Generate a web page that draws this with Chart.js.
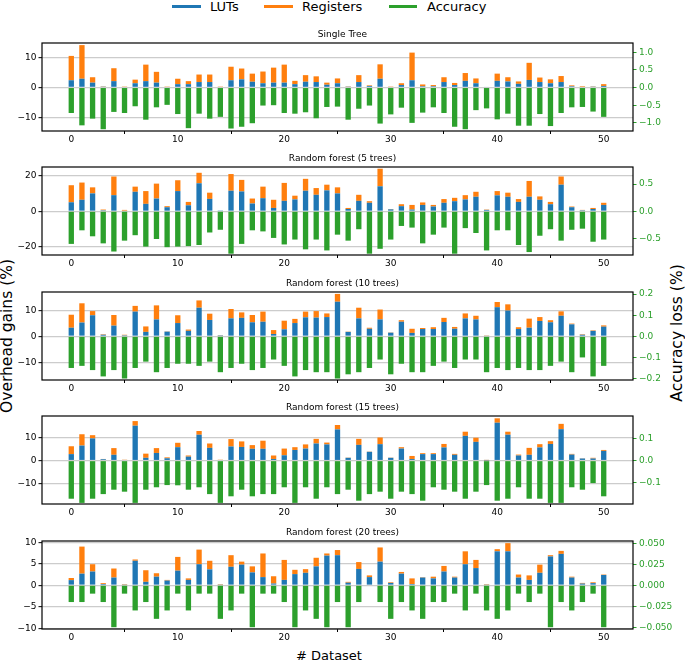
<!DOCTYPE html>
<html>
<head>
<meta charset="utf-8">
<script src="https://cdn.jsdelivr.net/npm/chart.js@4.4.0/dist/chart.umd.min.js"></script>
<style>
  body { margin: 0; background: #fff; }
  #wrap { position: relative; width: 685px; height: 661px; overflow: hidden; font-family: "DejaVu Sans", sans-serif; color: #000; }
  #wrap canvas { position: absolute; left: 0; }
  .lgtext { position: absolute; top: 0; font-size: 13px; line-height: 13px; white-space: nowrap; }
  .lgline { position: absolute; top: 5px; height: 3px; }
  .vlabel { position: absolute; font-size: 15.5px; white-space: nowrap; transform: translate(-50%, -50%) rotate(-90deg); }
  .xlabel { position: absolute; font-size: 13px; white-space: nowrap; transform: translate(-50%, -50%); }
</style>
</head>
<body>
<div id="wrap">
  <div class="lgline" style="left:172px;width:29px;background:#1f77b4"></div>
  <div class="lgtext" style="left:210px">LUTs</div>
  <div class="lgline" style="left:264px;width:29px;background:#ff7f0e"></div>
  <div class="lgtext" style="left:302px">Registers</div>
  <div class="lgline" style="left:389px;width:28px;background:#2ca02c"></div>
  <div class="lgtext" style="left:427px">Accuracy</div>
  <div class="vlabel" style="left:7px;top:336px">Overhead gains (%)</div>
  <div class="vlabel" style="left:677px;top:333px">Accuracy loss (%)</div>
  <div class="xlabel" style="left:329px;top:655px"># Dataset</div>
</div>
<script>
// x positions: one bar per dataset
const datasetIds = Array.from({length: 51}, (_, i) => i);
const xTicks = [0, 10, 20, 30, 40, 50];

// Single Tree
const lutsSingle = [2.4,2.9,1.6,0.3,2.1,0.2,1.4,2.1,1.6,0.2, 1.1,1.1,1.8,1.8,0.2,2.4,2.7,1.9,1.4,1.6,
  1.6,1.1,1.9,1.8,0.9,1.4,0.3,1.8,0.5,2.9, 0.2,0.8,2.4,0.4,0.4,1.8,0.8,2.2,1.4,0.2,
  2.2,2.0,1.2,2.5,1.8,1.4,1.8,0.4,0.2,0.3, 0.5];
const topSingle = [10.5,14.1,3.4,0.4,6.4,0.3,2.6,7.6,5.2,0.3, 2.9,2.1,4.3,4.3,0.3,6.9,6.3,4.6,5.3,6.6,
  7.6,2.2,4.1,3.7,1.6,3.0,0.4,4.1,0.7,7.7, 0.3,1.4,11.6,1.0,0.8,3.4,1.5,4.8,3.0,0.2,
  4.6,3.4,2.0,8.2,3.3,2.7,3.8,0.7,0.4,0.4, 1.1];
const accSingle = [-0.72,-1.07,-0.88,-1.18,-0.69,-0.72,-0.53,-0.91,-0.56,-0.49, -0.75,-1.15,-0.74,-0.88,-0.83,-1.16,-1.11,-1.01,-0.51,-0.50,
  -0.72,-0.74,-0.70,-0.87,-0.55,-0.54,-0.91,-0.60,-0.51,-1.02, -0.76,-0.57,-1.00,-0.71,-0.56,-0.72,-1.11,-1.18,-0.64,-0.59,
  -0.90,-0.74,-1.08,-1.08,-0.75,-1.09,-0.72,-0.56,-0.55,-0.68, -0.83];

// Random forest (5 trees)
const luts5 = [5.1,6.5,10.1,0.6,9.1,0.4,11.0,4.2,7.2,2.3, 11.4,3.4,15.8,7.0,0.2,11.6,11.2,4.4,7.4,1.9,
  5.9,6.7,11.6,9.3,11.8,10.1,1.3,5.9,4.8,14.1, 1.1,2.9,1.0,3.6,2.7,4.8,5.7,6.7,8.2,0.8,
  9.0,8.2,5.3,8.2,6.5,4.0,15.0,2.3,0.6,1.3, 3.6];
const top5 = [14.7,16.2,13.5,1.0,19.6,0.8,13.9,11.4,15.6,2.9, 17.5,5.3,21.7,10.5,0.2,21.0,17.7,7.2,13.9,6.5,
  16.0,8.8,18.3,13.1,15.0,13.5,1.9,9.3,5.7,24.0, 1.3,4.0,3.6,5.0,3.6,6.9,7.6,9.1,11.0,1.0,
  11.4,10.5,6.9,17.1,8.4,5.3,19.6,2.7,0.8,1.9, 4.8];
const acc5 = [-0.60,-0.35,-0.46,-0.59,-0.74,-0.54,-0.44,-0.65,-0.51,-0.66, -0.65,-0.64,-0.62,-0.39,-0.34,-0.78,-0.60,-0.35,-0.37,-0.49,
  -0.61,-0.52,-0.70,-0.52,-0.72,-0.43,-0.54,-0.33,-0.78,-0.69, -0.52,-0.27,-0.30,-0.59,-0.43,-0.30,-0.78,-0.31,-0.40,-0.72,
  -0.35,-0.35,-0.62,-0.75,-0.45,-0.33,-0.54,-0.34,-0.32,-0.56, -0.52];

// Random forest (10 trees)
const luts10 = [3.3,5.3,8.1,0.6,4.1,0.4,9.5,1.7,6.5,1.8, 5.1,2.1,11.0,6.3,0.4,6.9,7.1,5.4,5.6,0.9,
  2.7,5.1,7.3,7.2,7.4,13.3,1.7,6.9,2.9,6.5, 1.4,5.6,1.3,2.8,2.8,5.5,2.9,6.9,6.5,0.3,
  11.2,9.9,2.8,3.3,5.9,5.4,7.9,4.6,0.6,2.1, 3.7];
const top10 = [8.3,12.7,9.7,0.8,8.2,0.6,11.7,3.8,11.9,1.9, 8.1,2.6,13.8,8.7,0.5,10.5,9.2,8.2,9.5,2.4,
  6.0,6.7,9.5,9.7,8.8,16.3,1.8,11.0,3.3,10.3, 1.5,6.2,2.9,3.2,3.5,7.1,3.6,8.8,7.9,0.4,
  13.2,12.3,3.5,6.8,7.4,6.2,9.6,4.9,0.8,2.3, 4.2];
const acc10 = [-0.15,-0.14,-0.16,-0.19,-0.16,-0.20,-0.15,-0.12,-0.17,-0.15, -0.13,-0.13,-0.14,-0.12,-0.17,-0.15,-0.13,-0.16,-0.15,-0.11,
  -0.14,-0.19,-0.16,-0.17,-0.17,-0.20,-0.18,-0.17,-0.15,-0.11, -0.18,-0.13,-0.17,-0.17,-0.14,-0.12,-0.15,-0.11,-0.11,-0.17,
  -0.15,-0.16,-0.15,-0.16,-0.16,-0.14,-0.12,-0.17,-0.10,-0.19, -0.14];

// Random forest (15 trees)
const luts15 = [2.8,6.5,9.6,0.6,2.5,0.3,15.1,1.2,3.3,1.0, 5.8,1.7,11.2,5.5,0.3,6.1,5.9,5.1,5.1,0.7,
  2.3,4.6,5.2,7.4,7.0,13.5,1.2,6.8,3.8,7.1, 1.2,5.2,0.7,2.8,2.8,5.7,2.5,10.7,8.1,0.1,
  16.4,11.2,2.2,2.5,5.7,7.2,13.6,2.6,0.9,0.9, 4.2];
const top15 = [6.2,11.4,11.0,0.7,5.4,0.4,17.1,3.0,5.4,1.4, 7.7,2.2,12.8,7.4,0.4,9.3,8.3,6.7,8.6,2.2,
  5.2,5.8,7.0,9.4,7.8,15.4,1.3,9.4,3.9,10.0, 1.3,5.8,2.0,3.2,3.2,7.2,2.9,12.5,9.9,0.3,
  18.3,12.5,2.6,5.5,7.1,8.4,15.9,2.9,1.0,1.2, 4.6];
const acc15 = [-0.173,-0.192,-0.173,-0.152,-0.132,-0.141,-0.192,-0.132,-0.121,-0.111, -0.112,-0.132,-0.121,-0.152,-0.192,-0.162,-0.132,-0.162,-0.152,-0.152,
  -0.121,-0.192,-0.121,-0.173,-0.121,-0.152,-0.132,-0.182,-0.152,-0.141, -0.173,-0.141,-0.152,-0.182,-0.121,-0.132,-0.141,-0.173,-0.141,-0.111,
  -0.182,-0.173,-0.121,-0.173,-0.173,-0.192,-0.192,-0.121,-0.132,-0.102, -0.162];

// Random forest (20 trees)
const luts20 = [1.2,2.7,3.2,0.3,1.8,0.2,5.7,0.8,2.0,1.1, 3.4,1.25,4.9,3.7,0.2,4.3,4.8,3.0,1.9,0.4,
  1.25,2.6,2.9,4.4,6.9,7.0,0.6,3.8,1.9,5.5, 0.55,2.7,0.3,1.8,1.6,3.2,1.8,4.9,4.0,0.2,
  7.9,7.9,1.8,1.25,2.9,6.7,7.3,1.8,0.4,0.5, 2.4];
const top20 = [1.7,9.0,4.9,0.5,3.9,0.3,6.0,3.5,2.8,1.25, 6.6,1.6,8.3,5.7,0.3,7.0,5.5,4.4,7.4,2.1,
  5.9,3.6,3.75,6.4,7.4,8.2,0.8,5.4,2.3,8.8, 0.7,3.1,1.6,1.9,2.0,4.5,2.0,7.9,5.9,0.3,
  8.4,9.8,2.5,2.3,4.8,7.0,8.0,2.0,0.55,0.7, 2.5];
const acc20 = [-0.02,-0.02,-0.01,-0.02,-0.05,-0.01,-0.03,-0.02,-0.04,-0.03, -0.01,-0.03,-0.01,-0.01,-0.04,-0.03,-0.01,-0.05,-0.01,-0.01,
  -0.02,-0.05,-0.03,-0.04,-0.05,-0.02,-0.05,-0.02,0,-0.02, -0.04,-0.02,-0.03,-0.04,-0.02,-0.02,-0.01,-0.03,-0.01,-0.03,
  -0.04,-0.03,-0.01,-0.02,-0.01,-0.05,-0.02,-0.03,-0.02,-0.01, -0.05];

// tick values
const leftTicks = [[-10, 0, 10], [-20, 0, 20], [-10, 0, 10], [-10, 0, 10], [-10, -5, 0, 5, 10]];
const rightTicks = [[-1, -0.5, 0, 0.5, 1], [-0.5, 0, 0.5], [-0.2, -0.1, 0, 0.1, 0.2], [-0.1, 0, 0.1], [-0.05, -0.025, 0, 0.025, 0.05]];
const rightDecimals = [1, 1, 1, 1, 3];
const titles = ['Single Tree', 'Random forest (5 trees)', 'Random forest (10 trees)', 'Random forest (15 trees)', 'Random forest (20 trees)'];

const BLUE = '#1f77b4', ORANGE = '#ff7f0e', GREEN = '#2ca02c';
const FONT = '"DejaVu Sans", sans-serif';

const panels = [
  {luts: lutsSingle, top: topSingle, acc: accSingle, plotTop: 43,  y: [-14.5, 14.8], y1: [-1.23, 1.26]},
  {luts: luts5,      top: top5,      acc: acc5,      plotTop: 167, y: [-24.6, 24.96], y1: [-0.804, 0.814]},
  {luts: luts10,     top: top10,     acc: acc10,     plotTop: 292, y: [-16.8, 17.04], y1: [-0.207, 0.21]},
  {luts: luts15,     top: top15,     acc: acc15,     plotTop: 416, y: [-18.8, 19.3], y1: [-0.197, 0.203]},
  {luts: luts20,     top: top20,     acc: acc20,     plotTop: 541, y: [-10.17, 10.3], y1: [-0.0521, 0.0527]}
];

const TITLE_H = 20, PLOT_H = 88, XAXIS_H = 16;

const fmt = (v, d) => (v < 0 ? '\u2212' : '') + Math.abs(v).toFixed(d);

const framePlugin = {
  id: 'frame',
  afterDraw(chart) {
    const {ctx, chartArea: a} = chart;
    ctx.save();
    ctx.strokeStyle = '#000';
    ctx.lineWidth = 1.2;
    ctx.strokeRect(a.left, a.top, a.right - a.left, a.bottom - a.top);
    ctx.restore();
  }
};

const wrap = document.getElementById('wrap');

panels.forEach((p, k) => {
  const canvas = document.createElement('canvas');
  canvas.width = 685;
  canvas.height = TITLE_H + PLOT_H + XAXIS_H;
  canvas.style.top = (p.plotTop - TITLE_H) + 'px';
  wrap.appendChild(canvas);

  const regs = p.top.map((t, i) => +(t - p.luts[i]).toFixed(2));

  new Chart(canvas.getContext('2d'), {
    type: 'bar',
    data: {
      labels: datasetIds,
      datasets: [
        {label: 'LUTs', data: p.luts, backgroundColor: BLUE, yAxisID: 'y', stack: 'all'},
        {label: 'Registers', data: regs, backgroundColor: ORANGE, yAxisID: 'y', stack: 'all'},
        {label: 'Accuracy', data: p.acc, backgroundColor: GREEN, yAxisID: 'y1', stack: 'all'}
      ]
    },
    options: {
      responsive: false,
      animation: false,
      devicePixelRatio: 1,
      layout: {padding: 0},
      datasets: {bar: {grouped: false, barPercentage: 0.5, categoryPercentage: 1, borderWidth: 0}},
      plugins: {
        legend: {display: false},
        tooltip: {enabled: false},
        title: {display: true, text: titles[k], color: '#000', font: {family: FONT, size: 9, weight: 'normal'}, padding: {top: 6.2, bottom: 3}}
      },
      scales: {
        x: {
          type: 'linear', min: -2.75, max: 52.75, offset: false,
          afterBuildTicks: s => { s.ticks = xTicks.map(v => ({value: v})); },
          afterFit: s => { s.height = XAXIS_H; },
          grid: {drawOnChartArea: false, tickLength: 3, tickColor: '#000', tickWidth: 1},
          border: {display: false},
          ticks: {font: {family: FONT, size: 9}, color: '#000', padding: 0, maxRotation: 0, autoSkip: false, callback: v => String(v)}
        },
        y: {
          position: 'left', stacked: true, min: p.y[0], max: p.y[1],
          afterBuildTicks: s => { s.ticks = leftTicks[k].map(v => ({value: v})); },
          afterFit: s => { s.width = 42; },
          grid: {color: '#cccccc', lineWidth: 1.3, tickLength: 3.5, tickColor: '#000', tickWidth: 1},
          border: {display: false},
          ticks: {font: {family: FONT, size: 9}, color: '#000', padding: 2, callback: v => fmt(v, 0)}
        },
        y1: {
          position: 'right', stacked: true, min: p.y1[0], max: p.y1[1],
          afterBuildTicks: s => { s.ticks = rightTicks[k].map(v => ({value: v})); },
          afterFit: s => { s.width = 52; },
          grid: {drawOnChartArea: false, tickLength: 3.5, tickColor: GREEN, tickWidth: 1},
          border: {display: false},
          ticks: {font: {family: FONT, size: 9}, color: GREEN, padding: 2.5, callback: v => fmt(v, rightDecimals[k])}
        }
      }
    },
    plugins: [framePlugin]
  });
});
</script>
</body>
</html>
